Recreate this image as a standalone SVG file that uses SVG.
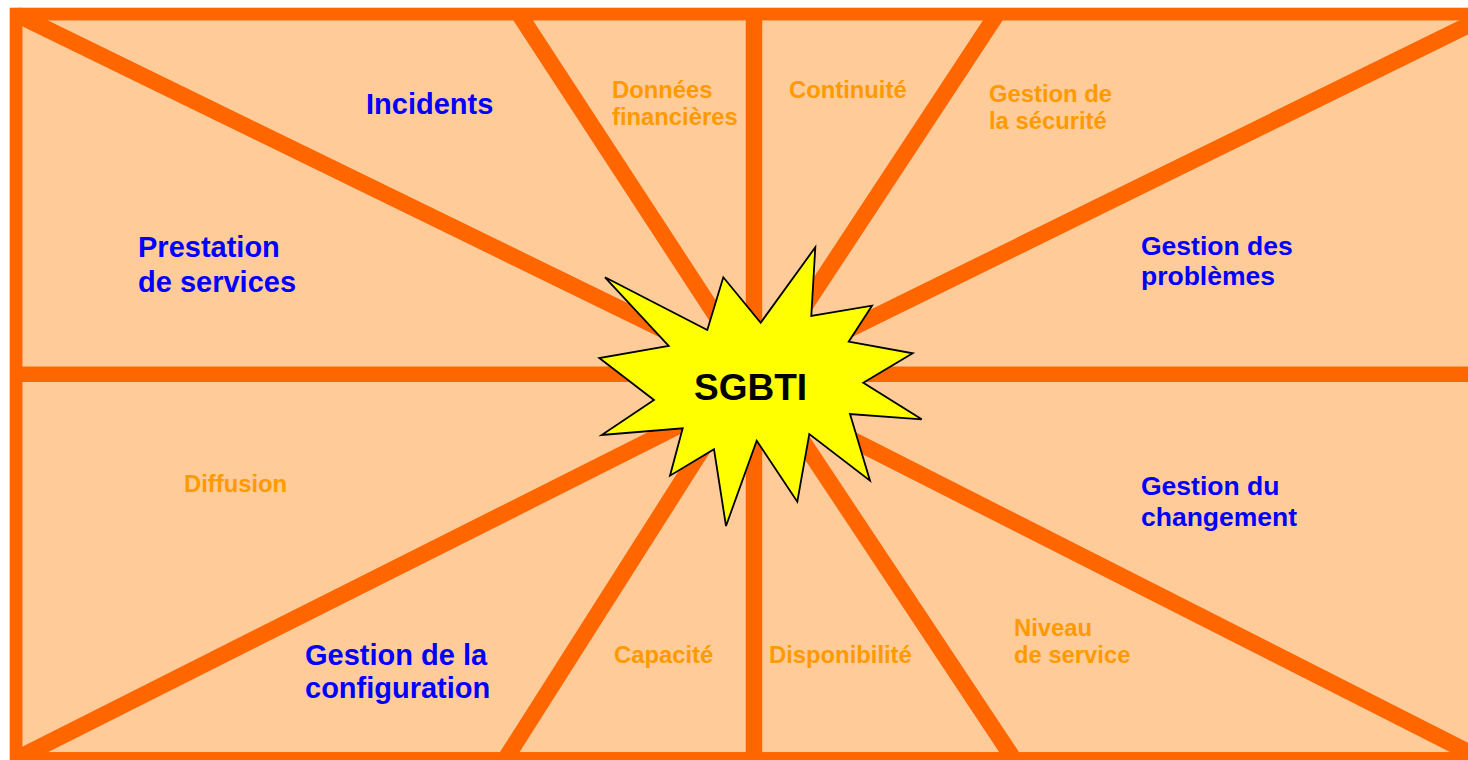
<svg xmlns="http://www.w3.org/2000/svg" width="1468" height="760" viewBox="0 0 1468 760">
  <style>
    .lbl { font-family: "Liberation Sans", Arial, sans-serif; font-weight: bold; }
    .main { fill: #0000FF; font-size: 29px; }
    .main-r { fill: #0000FF; font-size: 26.5px; }
    .sub { fill: #FF9900; font-size: 23.8px; }
    .spoke { stroke: #FF6600; stroke-width: 16.5; stroke-linecap: butt; fill: none; }
    .frame { stroke: #FF6600; stroke-width: 12.5; fill: #FFCC99; }
  </style>
  <defs>
    <clipPath id="inside">
      <rect x="9.75" y="7.75" width="1490" height="760"/>
    </clipPath>
  </defs>

  <rect width="1468" height="760" fill="#FFFFFF"/>

  <!-- outer frame -->
  <g id="frame">
    <rect class="frame" x="16" y="14" width="1474" height="744.5"/>
  </g>

  <!-- spokes radiating from the centre -->
  <g id="connectors" clip-path="url(#inside)">
    <line class="spoke" x1="16" y1="374.2" x2="1490" y2="374.2" style="stroke-width:15.5"/>
    <line class="spoke" x1="754" y1="14" x2="754" y2="758"/>
    <line class="spoke" x1="16" y1="14" x2="754" y2="374"/>
    <line class="spoke" x1="519" y1="14" x2="754" y2="374"/>
    <line class="spoke" x1="997" y1="14" x2="760" y2="374"/>
    <line class="spoke" x1="1491" y1="14" x2="754" y2="376"/>
    <line class="spoke" x1="16" y1="759" x2="754" y2="388"/>
    <line class="spoke" x1="506" y1="758" x2="750" y2="374"/>
    <line class="spoke" x1="1013" y1="758" x2="758" y2="374"/>
    <line class="spoke" x1="1484" y1="760" x2="754" y2="390"/>
    <rect x="16" y="14" width="1474" height="744.5" fill="none" stroke="#FF6600" stroke-width="12.5"/>
  </g>

  <!-- central burst -->
  <g id="sgbti">
    <polygon points="605,277.3 707.3,330 723.3,277.3 760.7,322.7 815.3,247.3 811.3,316 872,305.7 848.7,341.7 912.7,353.3 863.3,382.7 921.7,419.3 850,414 870,480.7 809.3,434 797.3,501.7 756.7,440.7 726,526 714,449.3 670,475.7 682.7,428.3 601.7,435 654,400 599.3,358 668.7,346" fill="#FFFF00" stroke="#000000" stroke-width="1.8" stroke-linejoin="miter"/>
    <text class="lbl" x="694" y="400" font-size="37" fill="#000000">SGBTI</text>
  </g>

  <!-- main processes -->
  <g id="incidents"><text class="lbl main" x="366" y="114">Incidents</text></g>
  <g id="prestation">
    <text class="lbl main" x="138" y="257">Prestation</text>
    <text class="lbl main" x="138" y="292">de services</text>
  </g>
  <g id="problemes">
    <text class="lbl main-r" x="1141" y="254.5">Gestion des</text>
    <text class="lbl main-r" x="1141" y="285">problèmes</text>
  </g>
  <g id="changement">
    <text class="lbl main-r" x="1141" y="495">Gestion du</text>
    <text class="lbl main-r" x="1141" y="525.5">changement</text>
  </g>
  <g id="configuration">
    <text class="lbl main" x="305" y="664.5">Gestion de la</text>
    <text class="lbl main" x="305" y="697.5">configuration</text>
  </g>

  <!-- secondary processes -->
  <g id="donnees">
    <text class="lbl sub" x="612" y="97.7">Données</text>
    <text class="lbl sub" x="612" y="125.3">financières</text>
  </g>
  <g id="continuite"><text class="lbl sub" x="789" y="97.7">Continuité</text></g>
  <g id="securite">
    <text class="lbl sub" x="989" y="101.7">Gestion de</text>
    <text class="lbl sub" x="989" y="129.3">la sécurité</text>
  </g>
  <g id="diffusion"><text class="lbl sub" x="184" y="492.3">Diffusion</text></g>
  <g id="capacite"><text class="lbl sub" x="614" y="663.3">Capacité</text></g>
  <g id="disponibilite"><text class="lbl sub" x="769" y="663.3">Disponibilité</text></g>
  <g id="niveau">
    <text class="lbl sub" x="1014" y="635.7">Niveau</text>
    <text class="lbl sub" x="1014" y="663.3">de service</text>
  </g>
</svg>
